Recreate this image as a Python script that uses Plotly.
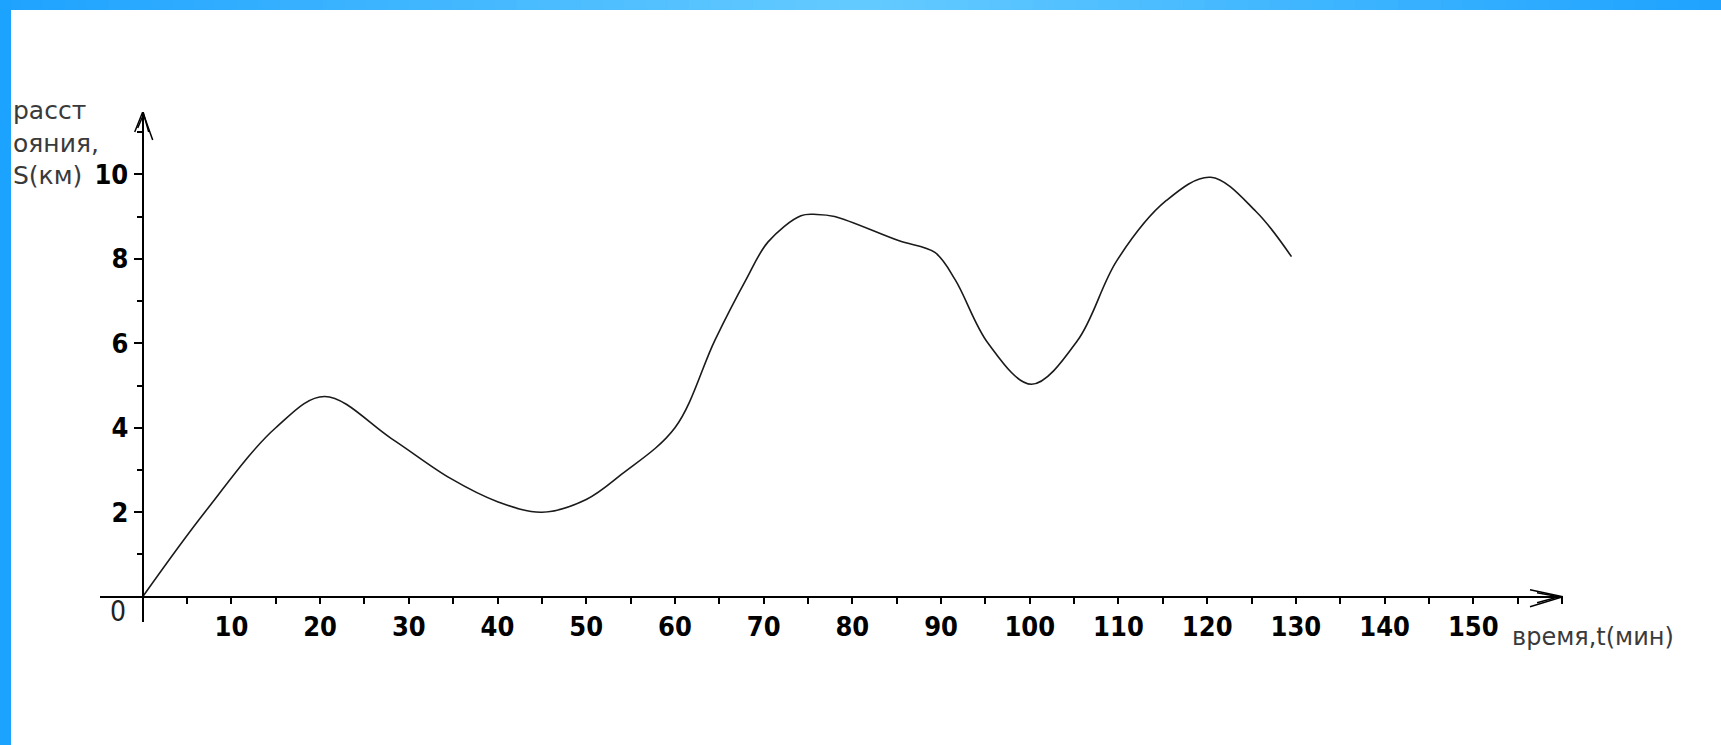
import plotly.graph_objects as go

# ---- data ----
time_min = [0, 7, 15, 20.5, 28, 34.7, 40, 45, 50, 54, 60, 64.5, 68, 70.5, 74.2, 76, 78,
            85.2, 89.3, 91.6, 95.3, 100.2, 105.4, 109.8, 115.4, 120.4, 125.5, 129.5]
dist_km = [0, 2.0, 4.0, 4.74, 3.75, 2.8, 2.25, 2.0, 2.3, 2.9, 4.0, 6.07, 7.5, 8.4, 9.02, 9.05, 9.0,
           8.43, 8.15, 7.5, 6.0, 5.03, 6.07, 7.95, 9.38, 9.93, 9.12, 8.05]
x_ticks = [10, 20, 30, 40, 50, 60, 70, 80, 90, 100, 110, 120, 130, 140, 150]
y_ticks = [2, 4, 6, 8, 10]
y_title = "расст<br>ояния,<br>S(км)"
x_title = "время,t(мин)"

W, H = 1721, 745
ML, MR, MT, MB = 100, 158, 112, 123
PW, PH = W - ML - MR, H - MT - MB
X_RANGE = [-4.813, 160.11]
Y_RANGE = [-0.599, 11.475]


def px_x(px):
    return (px - ML) / PW


def px_y(py):
    return (H - MB - py) / PH


x_pos = (0 - Y_RANGE[0]) / (Y_RANGE[1] - Y_RANGE[0])
y_pos = (0 - X_RANGE[0]) / (X_RANGE[1] - X_RANGE[0])

fig = go.Figure()
fig.add_trace(go.Scatter(x=time_min, y=dist_km, mode="lines",
                         line=dict(color="#1a1a1a", width=1.6, shape="spline", smoothing=1.0),
                         hoverinfo="skip", showlegend=False))

tick_font = dict(family="Liberation Sans Narrow, DejaVu Sans Condensed, Arial Narrow, sans-serif",
                 size=27, color="#000000", weight="bold")

fig.update_layout(
    width=W, height=H,
    margin=dict(l=ML, r=MR, t=MT, b=MB),
    paper_bgcolor="white", plot_bgcolor="white",
    showlegend=False,
    xaxis=dict(range=X_RANGE, anchor="free", position=x_pos, showgrid=False, zeroline=False,
               showline=True, linecolor="#000", linewidth=2,
               tickmode="array", tickvals=x_ticks, ticks="outside", ticklen=6, tickwidth=2,
               tickcolor="#000", tickfont=tick_font, ticklabelstandoff=0,
               minor=dict(dtick=5, tick0=0, ticks="outside", ticklen=6, tickwidth=2, tickcolor="#000")),
    yaxis=dict(range=Y_RANGE, anchor="free", position=y_pos, showgrid=False, zeroline=False,
               showline=True, linecolor="#000", linewidth=2,
               tickmode="array", tickvals=y_ticks, ticks="outside", ticklen=8, tickwidth=2,
               tickcolor="#000", tickfont=tick_font, ticklabelstandoff=0,
               minor=dict(dtick=1, tick0=1, ticks="outside", ticklen=5, tickwidth=2, tickcolor="#000")),
)

shapes = []
# top gradient bar
n = 80
c_edge = (30, 163, 255)
c_mid = (100, 202, 255)
for i in range(n):
    f = (i + 0.5) / n
    t = 1 - abs(f - 0.5) * 2
    col = tuple(round(c_edge[k] + (c_mid[k] - c_edge[k]) * t) for k in range(3))
    shapes.append(dict(type="rect", xref="paper", yref="paper",
                       x0=px_x(i * W / n), x1=px_x((i + 1) * W / n + 1),
                       y0=px_y(10), y1=px_y(0), fillcolor="rgb(%d,%d,%d)" % col,
                       line=dict(width=0), layer="above"))
# left bar
shapes.append(dict(type="rect", xref="paper", yref="paper", x0=px_x(0), x1=px_x(11),
                   y0=px_y(H), y1=px_y(0), fillcolor="#1ca2ff", line=dict(width=0), layer="above"))

# arrow heads (pixel offsets from the axis ends)
arrow_line = dict(color="#000", width=1.5)
shapes.append(dict(type="path", xref="x", yref="y", xsizemode="pixel", ysizemode="pixel",
                   xanchor=0, yanchor=Y_RANGE[1],
                   path="M -8,-20 L 0,0 L 10,-28", line=arrow_line))
shapes.append(dict(type="path", xref="x", yref="y", xsizemode="pixel", ysizemode="pixel",
                   xanchor=0, yanchor=Y_RANGE[1],
                   path="M -5,-16 L 1,-2 L 6,-20", line=arrow_line))
shapes.append(dict(type="path", xref="x", yref="y", xsizemode="pixel", ysizemode="pixel",
                   xanchor=X_RANGE[1], yanchor=0,
                   path="M -33,7 L 0,0 L -33,-10", line=arrow_line))
shapes.append(dict(type="path", xref="x", yref="y", xsizemode="pixel", ysizemode="pixel",
                   xanchor=X_RANGE[1], yanchor=0,
                   path="M -26,4 L -4,0 L -26,-6", line=arrow_line))
fig.update_layout(shapes=shapes)

fig.add_annotation(x=px_x(11), y=px_y(94), xref="paper", yref="paper", xanchor="left", yanchor="top",
                   text=y_title, showarrow=False, align="left",
                   font=dict(family="DejaVu Sans, sans-serif", size=25, color="#3a3a3a"))
fig.add_annotation(x=px_x(1510), y=px_y(637), xref="paper", yref="paper", xanchor="left", yanchor="middle",
                   text=x_title, showarrow=False, align="left",
                   font=dict(family="DejaVu Sans, sans-serif", size=24, color="#3a3a3a"))
fig.add_annotation(x=0, y=0, xref="x", yref="y", xshift=-25, yshift=-15, text="0", showarrow=False,
                   font=dict(family="Liberation Sans Narrow, DejaVu Sans Condensed, sans-serif",
                             size=28, color="#222"))

fig.write_html("out.html", config={"displayModeBar": False},
               post_script="document.body.style.margin='0';document.body.style.padding='0';"
                           "document.body.style.overflow='hidden';")
